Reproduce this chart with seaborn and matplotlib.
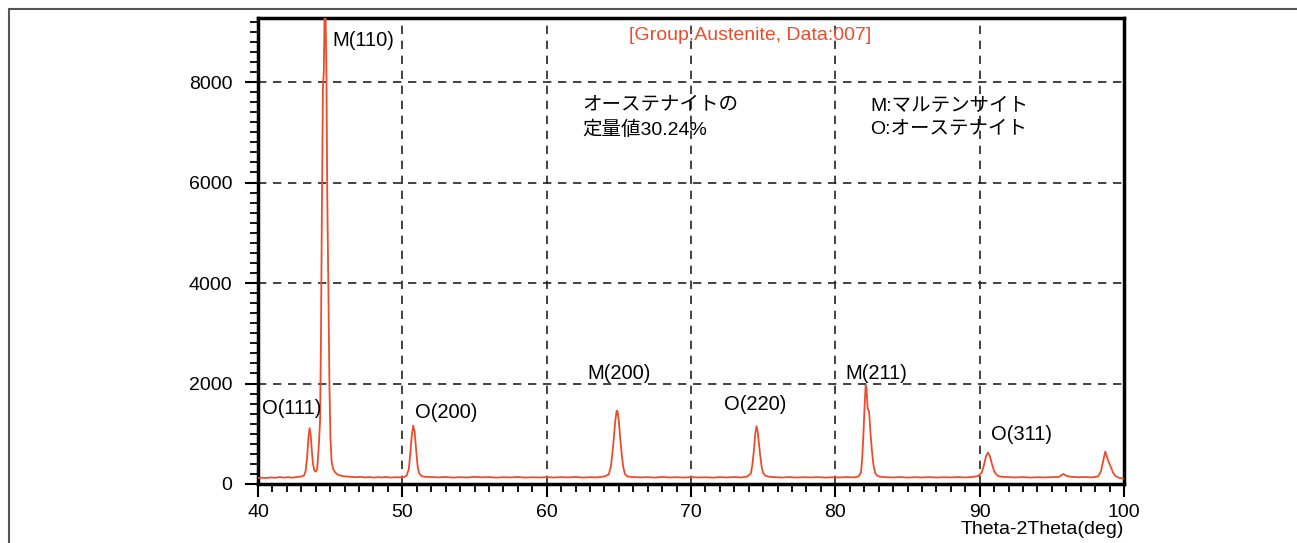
import matplotlib
matplotlib.use("Agg")
import matplotlib.pyplot as plt
from matplotlib.lines import Line2D
from matplotlib.ticker import MultipleLocator
import seaborn as sns
import pandas as pd

# ---- data (2theta in deg, intensity in counts) ----
two_theta = [
    40.0, 40.3, 40.6, 40.9, 41.2, 41.5, 41.8, 42.1, 42.4, 42.7, 43.0, 43.2,
    43.3, 43.4, 43.5, 43.58, 43.65, 43.72, 43.8, 43.9, 44.0, 44.1, 44.2,
    44.3, 44.36, 44.42, 44.5, 44.56, 44.62, 44.68, 44.74, 44.8, 44.88, 44.95, 45.02, 45.1, 45.2, 45.35, 45.5, 45.7, 45.9, 46.2, 46.5,
    46.8, 47.1, 47.4, 47.7, 48.0, 48.3, 48.6, 48.9, 49.2, 49.5, 49.8, 50.1, 50.3,
    50.45, 50.55, 50.65, 50.75, 50.85, 50.95, 51.05, 51.15, 51.3, 51.5,
    52.0, 52.5, 53.0, 53.5, 54.0, 54.5, 55.0, 55.5, 56.0, 56.5, 57.0, 57.5, 58.0, 58.5, 59.0, 59.5,
    60.0, 60.5, 61.0, 61.5, 62.0, 62.5, 63.0, 63.5, 64.0, 64.3,
    64.45, 64.55, 64.65, 64.75, 64.85, 64.92, 65.0, 65.1, 65.2, 65.3, 65.42, 65.6,
    66.0, 66.5, 67.0, 67.5, 68.0, 68.5, 69.0, 69.5, 70.0, 70.5, 71.0, 71.5, 72.0, 72.5, 73.0, 73.5, 73.9, 74.15,
    74.25, 74.35, 74.45, 74.54, 74.62, 74.7, 74.8, 74.9, 75.0, 75.15, 75.4,
    75.8, 76.3, 76.8, 77.3, 77.8, 78.3, 78.8, 79.3, 79.8, 80.3, 80.8, 81.3, 81.6, 81.78,
    81.86, 81.94, 82.02, 82.1, 82.16, 82.24, 82.34, 82.44, 82.54, 82.64, 82.76, 82.9, 83.1,
    83.5, 84.0, 84.5, 85.0, 85.5, 86.0, 86.5, 87.0, 87.5, 88.0, 88.5, 89.0, 89.5, 89.9, 90.15,
    90.3, 90.45, 90.58, 90.7, 90.85, 91.0, 91.15, 91.3, 91.5,
    92.0, 92.5, 93.0, 93.5, 94.0, 94.5, 95.0, 95.5, 95.8, 96.0, 96.3, 96.8, 97.3, 97.8, 98.2, 98.4,
    98.55, 98.7, 98.8, 98.95, 99.1, 99.25, 99.4, 99.6, 99.8, 99.95,
]
intensity = [
    118, 125, 120, 132, 124, 138, 128, 135, 126, 140, 150, 175,
    260, 520, 950, 1110, 980, 700, 420, 270, 245, 300, 700,
    1250, 2800, 5200, 7900, 8200, 9600, 9400, 8200, 5700, 3800, 1950, 900, 450, 300, 230, 190, 170, 155, 148, 140,
    135, 142, 130, 138, 128, 136, 131, 140, 127, 135, 132, 140, 165,
    300, 600, 950, 1160, 1050, 700, 380, 220, 165, 145,
    138, 132, 140, 128, 136, 130, 142, 133, 138, 127, 135, 131, 139, 128, 134, 130,
    137, 129, 136, 131, 140, 128, 135, 132, 150, 190,
    350, 600, 900, 1250, 1460, 1430, 1250, 900, 600, 350, 200, 150,
    138, 132, 136, 128, 140, 131, 135, 129, 137, 130, 134, 127, 136, 131, 138, 130, 150, 210,
    380, 640, 1000, 1150, 1050, 820, 560, 330, 220, 165, 145,
    136, 130, 138, 129, 135, 131, 137, 128, 134, 131, 138, 132, 150, 230,
    500, 950, 1500, 1970, 1900, 1500, 1440, 1000, 650, 380, 220, 165, 145,
    135, 131, 138, 128, 136, 130, 137, 129, 135, 131, 138, 130, 140, 160, 230,
    380, 560, 625, 560, 400, 260, 190, 160, 145,
    136, 131, 138, 129, 135, 131, 137, 140, 200, 165, 145, 135, 138, 132, 150, 250,
    450, 645, 560, 430, 330, 220, 160, 130, 115, 105,
]

peak_labels = ["M(110)", "O(111)", "O(200)", "M(200)", "O(220)", "M(211)", "O(311)"]
peak_label_x = [45.15, 40.3, 50.85, 62.8, 72.3, 80.7, 90.8]
peak_label_y = [8836, 1512, 1413, 2209, 1592, 2209, 995]

title_text = "[Group:Austenite, Data:007]"
note_left = "オーステナイトの\n定量値30.24%"
note_right = "M:マルテンサイト\nO:オーステナイト"
x_label = "Theta-2Theta(deg)"

df = pd.DataFrame({"two_theta": two_theta, "intensity": intensity})

sns.set_theme(style="white")
plt.rcParams["font.family"] = ["Liberation Sans", "Noto Sans CJK JP", "DejaVu Sans"]
plt.rcParams["text.color"] = "black"
plt.rcParams["axes.labelcolor"] = "black"
plt.rcParams["xtick.color"] = "black"
plt.rcParams["ytick.color"] = "black"

fig = plt.figure(figsize=(12.97, 5.43), dpi=100)
ax = fig.add_axes([258 / 1297, 1 - 484 / 543, (1124 - 258) / 1297, (484 - 18) / 543])

line_color = "#EE4B2B"
sns.lineplot(data=df, x="two_theta", y="intensity", ax=ax, color=line_color,
             linewidth=1.3, zorder=3)

ax.set_xlim(40, 100)
ax.set_ylim(0, 9274)

ax.xaxis.set_major_locator(MultipleLocator(10))
ax.xaxis.set_minor_locator(MultipleLocator(1))
ax.yaxis.set_major_locator(MultipleLocator(2000))
ax.yaxis.set_minor_locator(MultipleLocator(200))

ax.grid(True, which="major", color="#222222", linestyle=(0, (5, 4)), linewidth=1.2, zorder=1)
ax.grid(False, which="minor")

for s in ax.spines.values():
    s.set_linewidth(2.5)
    s.set_color("black")

ax.tick_params(axis="both", which="major", direction="out", length=9.5, width=1.5,
               color="black", labelcolor="black", labelsize=14, bottom=True, left=True)
ax.tick_params(axis="both", which="minor", direction="out", length=5.5, width=1.3,
               color="black", bottom=True, left=True)
ax.tick_params(axis="y", which="major", pad=9)
ax.tick_params(axis="x", which="major", pad=5)

ax.set_ylabel("")
ax.set_xlabel(x_label, fontsize=14, loc="right", labelpad=0, color="black")

for lab, lx, ly in zip(peak_labels, peak_label_x, peak_label_y):
    ax.text(lx, ly, lab, fontsize=14.5, ha="left", va="center", color="black", zorder=4)

ax.text(0.568, 0.962, title_text, transform=ax.transAxes, fontsize=14,
        ha="center", va="center", color=line_color, zorder=4)

ax.text(62.5, 7290, note_left, fontsize=14, ha="left", va="center",
        linespacing=1.45, color="black", zorder=4,
        family=["Liberation Sans", "Noto Sans CJK JP"])
ax.text(82.4, 7290, note_right, fontsize=14, ha="left", va="center",
        linespacing=1.45, color="black", zorder=4,
        family=["Liberation Sans", "Noto Sans CJK JP"])

# outer frame (left and top edges) of the screenshot panel
fig.add_artist(Line2D([9 / 1297, 9 / 1297], [0, 1 - 9 / 543], transform=fig.transFigure,
                      color="#555555", linewidth=1.5))
fig.add_artist(Line2D([9 / 1297, 1], [1 - 9 / 543, 1 - 9 / 543], transform=fig.transFigure,
                      color="#555555", linewidth=1.5))

fig.savefig("out.png", dpi=100)
